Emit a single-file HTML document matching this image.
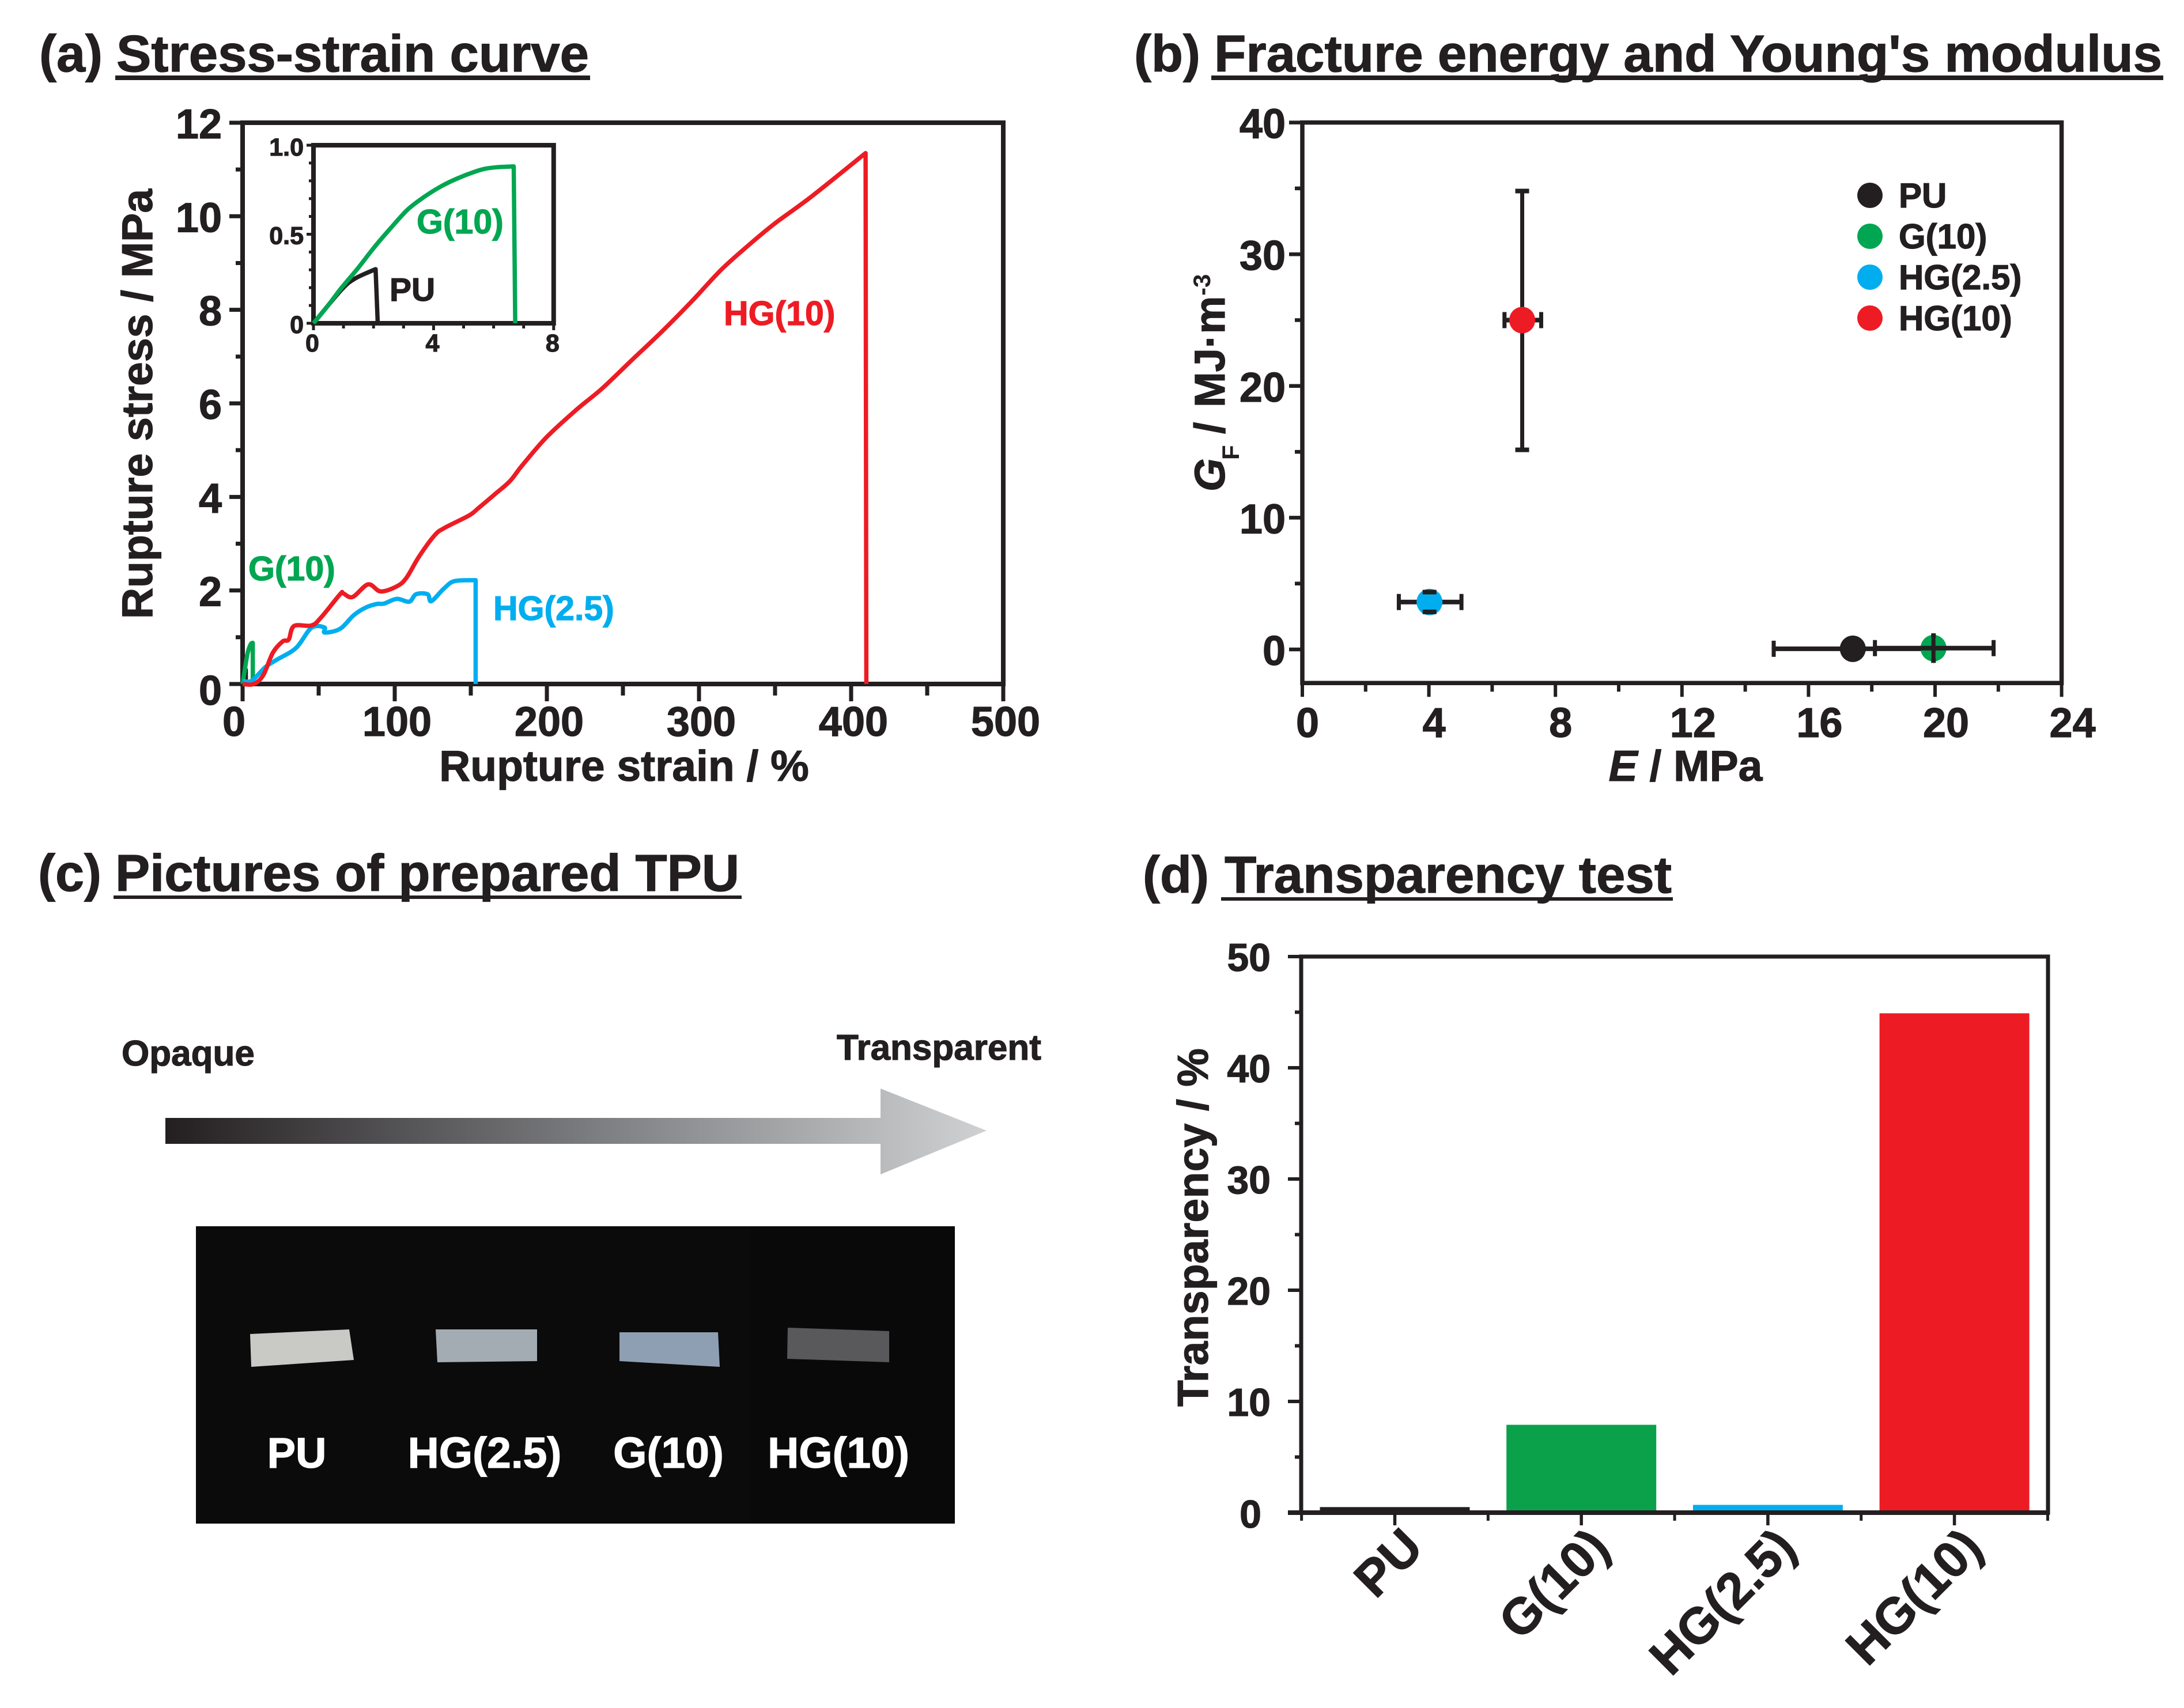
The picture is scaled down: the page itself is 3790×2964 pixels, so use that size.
<!DOCTYPE html>
<html lang="en">
<head>
<meta charset="utf-8">
<title>TPU mechanical and optical properties</title>
<style>
html,body{margin:0;padding:0;background:#fff;width:3790px;height:2964px;overflow:hidden}
svg{display:block}
text{font-family:"Liberation Sans",Arial,sans-serif;font-weight:700;fill:#231f20;stroke:#231f20;stroke-width:1.2}
</style>
</head>
<body>
<svg id="figure" xmlns="http://www.w3.org/2000/svg" width="3790" height="2964" viewBox="0 0 3790 2964">
<defs>
<linearGradient id="arrowGrad" gradientUnits="userSpaceOnUse" x1="287" y1="0" x2="1710" y2="0">
<stop offset="0" stop-color="#231f20"/><stop offset="0.5" stop-color="#78797c"/><stop offset="1" stop-color="#cfd1d2"/>
</linearGradient>
</defs>
<rect width="3790" height="2964" fill="#fff"/>

<g>
<text x="68" y="124" font-size="90">(a)</text>
<text x="202" y="124" font-size="90" textLength="820" lengthAdjust="spacingAndGlyphs">Stress-strain curve</text>
<rect x="200" y="131" width="824" height="8" fill="#231f20"/>
</g>
<g>
<text x="1968" y="124" font-size="90">(b)</text>
<text x="2107" y="124" font-size="90" textLength="1645" lengthAdjust="spacingAndGlyphs">Fracture energy and Young's modulus</text>
<rect x="2102" y="131" width="1652" height="8" fill="#231f20"/>
</g>
<g>
<text x="66" y="1546" font-size="90">(c)</text>
<text x="200" y="1546" font-size="90" textLength="1083" lengthAdjust="spacingAndGlyphs">Pictures of prepared TPU</text>
<rect x="197" y="1554" width="1090" height="6" fill="#231f20"/>
</g>
<g>
<text x="1983" y="1549" font-size="90">(d)</text>
<text x="2125" y="1549" font-size="90" textLength="776" lengthAdjust="spacingAndGlyphs">Transparency test</text>
<rect x="2119" y="1557" width="784" height="6" fill="#231f20"/>
</g>

<g>
<text x="211" y="1849" font-size="62">Opaque</text>
<text x="1452" y="1839" font-size="62">Transparent</text>
<polygon points="287,1940 1528,1940 1528,1889 1712,1962 1528,2038 1528,1985 287,1985" fill="url(#arrowGrad)"/>
<rect x="340" y="2128" width="1317" height="516" fill="#0b0b0b"/>
<rect x="1302" y="2128" width="355" height="516" fill="#090909"/>
<polygon points="434,2315 606,2307 614,2360 436,2372" fill="#c9c9c6"/>
<polygon points="756,2307 932,2307 932,2362 759,2364" fill="#a3acb2"/>
<polygon points="1075,2312 1246,2312 1249,2372 1075,2362" fill="#8f9fb3"/>
<polygon points="1367,2304 1543,2310 1543,2364 1366,2358" fill="#59595b"/>
<text x="515" y="2547" font-size="74" text-anchor="middle" style="fill:#fff;stroke:#fff">PU</text>
<text x="841" y="2547" font-size="75" text-anchor="middle" style="fill:#fff;stroke:#fff">HG(2.5)</text>
<text x="1160" y="2547" font-size="75" text-anchor="middle" style="fill:#fff;stroke:#fff">G(10)</text>
<text x="1455" y="2547" font-size="75" text-anchor="middle" style="fill:#fff;stroke:#fff">HG(10)</text>
</g>

<g id="chartA">
<text transform="translate(264,701) rotate(-90)" font-size="75" text-anchor="middle">Rupture stress / MPa</text>
<text x="1083" y="1355" font-size="75" text-anchor="middle">Rupture strain / %</text>
<text x="431" y="1007" font-size="59" style="fill:#00a651;stroke:#00a651">G(10)</text>
<text x="856" y="1076" font-size="59" style="fill:#00aeef;stroke:#00aeef">HG(2.5)</text>
<text x="1256" y="564" font-size="59" style="fill:#ed1c24;stroke:#ed1c24">HG(10)</text>
</g>
<g id="chartInset">
<text x="723" y="405" font-size="59" style="fill:#00a651;stroke:#00a651">G(10)</text>
<text x="676" y="522" font-size="57">PU</text>
</g>
<g id="chartB">
<text transform="translate(2125,853) rotate(-90)" font-size="74"><tspan x="0" font-style="italic">G</tspan><tspan x="55" dy="25" font-size="42" style="stroke-width:0">F</tspan><tspan x="100" dy="-25">/</tspan><tspan x="146">MJ·m</tspan><tspan x="340" dy="-25" font-size="42" style="stroke-width:0">-3</tspan></text>
<text x="2925" y="1355" font-size="75" text-anchor="middle"><tspan font-style="italic">E</tspan> / MPa</text>
</g>
<g id="chartD">
<text transform="translate(2096,2130) rotate(-90)" font-size="75" text-anchor="middle" textLength="622" lengthAdjust="spacing">Transparency / %</text>
</g>
</svg>

<script>
// ---------- Panel (a) data: strain (%) and stress (MPa) ----------
const hg10Strain = [0,7.3,13.6,19.9,26.3,30.3,33.8,45.2,51.5,64.1,66,72.3,82.5,90.7,101.4,107.7,115.9,126,132.3,148.7,155,166.3,175.8,183.7,199.6,218.9,236.4,255.7,276.1,295.5,314.4,332.2,349.6,373.5,409.5,410];
const hg10Stress = [0,0,0.19,0.67,0.91,0.95,1.24,1.25,1.42,1.92,1.94,1.86,2.13,1.98,2.09,2.27,2.72,3.17,3.33,3.6,3.76,4.07,4.34,4.67,5.27,5.85,6.32,6.92,7.55,8.19,8.85,9.37,9.84,10.41,11.35,0];
const hg25Strain = [0,6,14.9,22.5,35.1,45.2,53.8,54,64.1,73,80.6,88.1,93,101.4,109.6,114,121.6,124,132.3,139.3,153.2,153.2];
const hg25Stress = [0.07,0.07,0.36,0.52,0.77,1.2,1.21,1.1,1.18,1.47,1.63,1.71,1.72,1.82,1.76,1.92,1.92,1.77,2.04,2.2,2.22,0];
const g10Strain = [0,0.48,0.92,1.48,2.03,2.58,3.14,3.69,4.25,4.8,5.35,5.72,6.09,6.67,6.72];
const g10Stress = [0,0.099,0.196,0.309,0.428,0.536,0.639,0.71,0.769,0.814,0.85,0.868,0.876,0.881,0];
const puStrain = [0,0.92,1.37,2.07,2.14];
const puStress = [0,0.186,0.25,0.304,0];
const aXTicks = [0,100,200,300,400,500];
const aYTicks = [0,2,4,6,8,10,12];
const insetXTicks = [0,4,8];
const insetYLabels = ['0','0.5','1.0'];
const insetYValues = [0,0.5,1];

// ---------- Panel (b) data ----------
const bNames = ['PU','G(10)','HG(2.5)','HG(10)'];
const bModulus = [17.4,19.95,4.02,6.95];
const bModulusLow = [14.9,18.1,3.05,6.39];
const bModulusHigh = [19.95,21.85,5.03,7.55];
const bEnergy = [0.05,0.1,3.6,25];
const bEnergyLow = [0,-0.85,2.85,15.15];
const bEnergyHigh = [0.1,1.05,4.35,34.8];
const bXTicks = [0,4,8,12,16,20,24];
const bYTicks = [0,10,20,30,40];

// ---------- Panel (d) data ----------
const dNames = ['PU','G(10)','HG(2.5)','HG(10)'];
const dValues = [0.5,7.9,0.7,44.9];
const dYTicks = [0,10,20,30,40,50];

const INK = '#231f20', GREEN = '#00a651', BLUE = '#00aeef', RED = '#ed1c24', BAR_GREEN = '#0ba14b';
const SVGNS = 'http://www.w3.org/2000/svg';
function mk(parent, tag, attrs, txt){
  const e = document.createElementNS(SVGNS, tag);
  for (const k in attrs) e.setAttribute(k, attrs[k]);
  if (txt !== undefined) e.textContent = txt;
  parent.appendChild(e);
  return e;
}
// Smooth curve through every point but the last; the last segment is the straight rupture drop.
function curvePath(xs, ys, fx, fy){
  const p = xs.map((x,i)=>[fx(x),fy(ys[i])]);
  const n = p.length - 1;
  let d = 'M' + p[0][0].toFixed(1) + ',' + p[0][1].toFixed(1);
  for (let i = 0; i < n - 1; i++){
    const p0 = p[Math.max(i-1,0)], p1 = p[i], p2 = p[i+1], p3 = p[Math.min(i+2,n-1)];
    const c1x = p1[0]+(p2[0]-p0[0])/6, c1y = p1[1]+(p2[1]-p0[1])/6;
    const c2x = p2[0]-(p3[0]-p1[0])/6, c2y = p2[1]-(p3[1]-p1[1])/6;
    d += 'C'+c1x.toFixed(1)+','+c1y.toFixed(1)+' '+c2x.toFixed(1)+','+c2y.toFixed(1)+' '+p2[0].toFixed(1)+','+p2[1].toFixed(1);
  }
  d += 'L'+p[n][0].toFixed(1)+','+p[n][1].toFixed(1);
  return d;
}

// ---------- Panel (a) ----------
const gA = document.getElementById('chartA');
const xA = v => 421 + v*2.64;
const yA = v => 1187 - v*81.17;
let el;
el = mk(gA,'rect',{x:xA(0),y:yA(12),width:xA(500)-xA(0),height:yA(0)-yA(12),fill:'none',stroke:INK,'stroke-width':8});


for (let v=0;v<=500;v+=50){
  const major = v%100===0;
  el = mk(gA,'line',{x1:xA(v),x2:xA(v),y1:yA(0),y2:yA(0)+(major?30:20),stroke:INK,'stroke-width':7});
  
  
}
for (let v=0;v<=12;v+=1){
  const major = v%2===0;
  el = mk(gA,'line',{x1:xA(0),x2:xA(0)-(major?23:12),y1:yA(v),y2:yA(v),stroke:INK,'stroke-width':7});
  
  
}
aXTicks.forEach(v=>{
  el = mk(gA,'text',{x:v===0?406:xA(v)+4,y:1277,'font-size':72,'text-anchor':'middle'},String(v));
  
  
});
aYTicks.forEach(v=>{
  el = mk(gA,'text',{x:385,y:yA(v)+(v===0?36:27),'font-size':72,'text-anchor':'end'},String(v));
  
  
});
const curveStyle = c => ({fill:'none',stroke:c,'stroke-width':7.5,'stroke-linejoin':'round','stroke-linecap':'butt'});
el = mk(gA,'path',Object.assign({d:curvePath(puStrain,puStress,xA,yA)},curveStyle(INK)));


el = mk(gA,'path',Object.assign({d:curvePath(g10Strain,g10Stress,xA,yA)},curveStyle(GREEN)));


el = mk(gA,'path',Object.assign({d:curvePath(hg25Strain,hg25Stress,xA,yA)},curveStyle(BLUE)));


el = mk(gA,'path',Object.assign({d:curvePath(hg10Strain,hg10Stress,xA,yA)},curveStyle(RED)));



// ---------- Inset ----------
const gI = document.getElementById('chartInset');
const xI = v => 544 + v*52.1;
const yI = v => 561 - v*309;
el = mk(gI,'rect',{x:xI(0),y:yI(1),width:xI(8)-xI(0),height:yI(0)-yI(1),fill:'none',stroke:INK,'stroke-width':8});


for (let v=0;v<=8;v+=1){
  el = mk(gI,'line',{x1:xI(v),x2:xI(v),y1:yI(0),y2:yI(0)+(v%4===0?12:9),stroke:INK,'stroke-width':5});
  
  
}
for (let i=0;i<=10;i+=1){
  el = mk(gI,'line',{x1:xI(0),x2:xI(0)-(i%5===0?12:8),y1:yI(i/10),y2:yI(i/10),stroke:INK,'stroke-width':5});
  
  
}
insetXTicks.forEach(v=>{
  el = mk(gI,'text',{x:xI(v)-2,y:610,'font-size':43,'text-anchor':'middle'},String(v));
  
  
});
insetYValues.forEach((v,i)=>{
  el = mk(gI,'text',{x:527,y:yI(v)+(v===1?18:17),'font-size':43,'text-anchor':'end'},insetYLabels[i]);
  
  
});
el = mk(gI,'path',Object.assign({d:curvePath(puStrain,puStress,xI,yI)},curveStyle(INK)));


el = mk(gI,'path',Object.assign({d:curvePath(g10Strain,g10Stress,xI,yI)},curveStyle(GREEN)));



// ---------- Panel (b) ----------
const gB = document.getElementById('chartB');
const xB = v => 2260 + v*54.9;
const yB = v => 1127 - v*22.86;
const bColors = [INK,GREEN,BLUE,RED];
el = mk(gB,'rect',{x:xB(0),y:yB(40),width:xB(24)-xB(0),height:yB(-2.55)-yB(40),fill:'none',stroke:INK,'stroke-width':7.5});


for (let v=0;v<=24;v+=2){
  const major = v%4===0;
  el = mk(gB,'line',{x1:xB(v),x2:xB(v),y1:yB(-2.55),y2:yB(-2.55)+(major?24:15),stroke:INK,'stroke-width':6});
  
  
}
for (let v=0;v<=40;v+=5){
  const major = v%10===0;
  el = mk(gB,'line',{x1:xB(0),x2:xB(0)-(major?23:13),y1:yB(v),y2:yB(v),stroke:INK,'stroke-width':6.5});
  
  
}
bXTicks.forEach(v=>{
  el = mk(gB,'text',{x:xB(v)+(v<10?9:19),y:1279,'font-size':72,'text-anchor':'middle'},String(v));
  
  
});
bYTicks.forEach(v=>{
  el = mk(gB,'text',{x:2231,y:yB(v)+27,'font-size':72,'text-anchor':'end'},String(v));
  
  
});
function drawMarker(i){
  const m = mk(gB,'ellipse',{cx:xB(bModulus[i]),cy:yB(bEnergy[i]),rx:22.5,ry:23,fill:bColors[i]});
  
  
}
function drawErrors(i){
  const g = mk(gB,'g',{stroke:INK,'stroke-width':8,fill:'none'});
  
  
  const cx = xB(bModulus[i]), cy = yB(bEnergy[i]);
  mk(g,'line',{x1:xB(bModulusLow[i]),x2:xB(bModulusHigh[i]),y1:cy,y2:cy});
  mk(g,'line',{x1:xB(bModulusLow[i]),x2:xB(bModulusLow[i]),y1:cy-14,y2:cy+14,'stroke-width':7});
  mk(g,'line',{x1:xB(bModulusHigh[i]),x2:xB(bModulusHigh[i]),y1:cy-14,y2:cy+14,'stroke-width':7});
  mk(g,'line',{x1:cx,x2:cx,y1:yB(bEnergyLow[i]),y2:yB(bEnergyHigh[i]),'stroke-width':7});
}
function drawEnergyCaps(i){
  const g = mk(gB,'g',{stroke:INK,'stroke-width':8,fill:'none'});
  
  
  const cx = xB(bModulus[i]);
  const half = bNames[i]==='G(10)' ? 4 : 12;
  mk(g,'line',{x1:cx-half,x2:cx+half,y1:yB(bEnergyLow[i]),y2:yB(bEnergyLow[i])});
  mk(g,'line',{x1:cx-half,x2:cx+half,y1:yB(bEnergyHigh[i]),y2:yB(bEnergyHigh[i])});
}
bNames.forEach((n,i)=>{
  if (n==='G(10)'){ drawMarker(i); drawErrors(i); }
  else { drawErrors(i); drawMarker(i); }
  if (n!=='PU') drawEnergyCaps(i);
});
bNames.forEach((n,i)=>{
  el = mk(gB,'ellipse',{cx:3245,cy:339+i*71,rx:22,ry:22,fill:bColors[i]});
  
  
  el = mk(gB,'text',{x:3295,y:360+i*71,'font-size':60},n);
  
  
});

// ---------- Panel (d) ----------
const gD = document.getElementById('chartD');
const yD = v => 2625 - v*19.3;
const xD = i => 2420.5 + i*323.7;
const barW = 260;
const dColors = [INK,BAR_GREEN,BLUE,RED];
el = mk(gD,'rect',{x:2258,y:yD(50),width:1296,height:yD(0)-yD(50),fill:'none',stroke:INK,'stroke-width':7});


dValues.forEach((v,i)=>{
  el = mk(gD,'rect',{x:xD(i)-barW/2,y:yD(v),width:barW,height:yD(0)-yD(v),fill:dColors[i]});
  
  
});
el = mk(gD,'line',{x1:2235,x2:3557,y1:yD(0),y2:yD(0),stroke:INK,'stroke-width':8});


dNames.forEach((n,i)=>{
  el = mk(gD,'line',{x1:xD(i),x2:xD(i),y1:yD(0),y2:yD(0)+22,stroke:INK,'stroke-width':5.5});
  
  
  el = mk(gD,'text',{transform:'translate('+(xD(i)+53)+',2690) rotate(-45)','font-size':88,'text-anchor':'end'},n);
  
  
});
for (let i=0;i<=4;i+=1){
  el = mk(gD,'line',{x1:xD(i)-161.85,x2:xD(i)-161.85,y1:yD(0),y2:yD(0)+14,stroke:INK,'stroke-width':5});
  
  
}
for (let v=0;v<=50;v+=5){
  const major = v%10===0;
  el = mk(gD,'line',{x1:2258,x2:2258-(major?23:11),y1:yD(v),y2:yD(v),stroke:INK,'stroke-width':6});
  
  
}
dYTicks.forEach(v=>{
  el = mk(gD,'text',{x:v===0?2189:2205,y:yD(v)+(v===0?26:25),'font-size':68,'text-anchor':'end'},String(v));
  
  
});
</script>
</body>
</html>
